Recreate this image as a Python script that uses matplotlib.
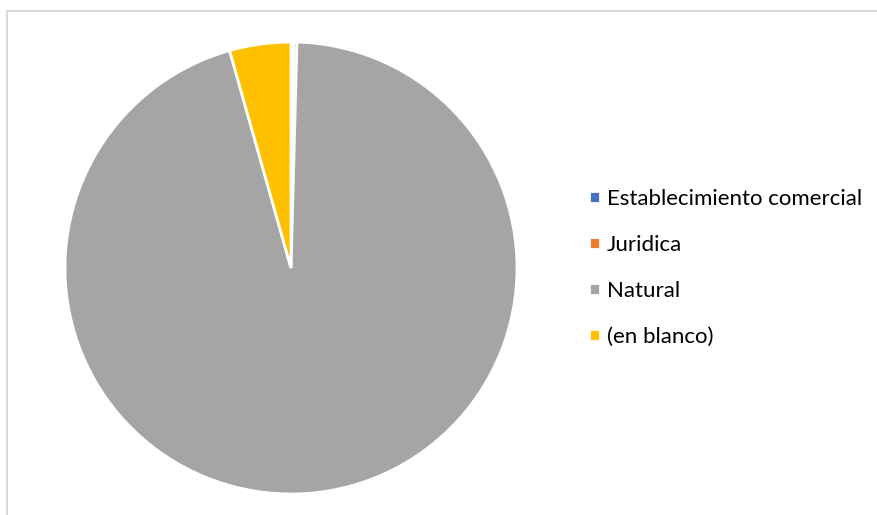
import matplotlib.pyplot as plt
from matplotlib.patches import Rectangle

# datos del grafico (porcentaje aprox.)
categorias = ['Establecimiento comercial', 'Juridica', 'Natural', '(en blanco)']
valores = [0.2, 0.22, 95.2, 4.38]
colores = ['#4472C4', '#ED7D31', '#A5A5A5', '#FFC000']

plt.rcParams['font.family'] = ['Lato', 'DejaVu Sans']

fig = plt.figure(figsize=(8.77, 5.15), dpi=100)

# borde del area del grafico
fig.patches.append(Rectangle((7/877, -0.1), 1.2, (515-11)/515 + 0.1, transform=fig.transFigure,
                             fill=False, edgecolor='#D9D9D9', linewidth=1.5))

ax = fig.add_axes([65/877, 21/515, 452/877, 452/515])
wedges, _ = ax.pie(valores, colors=colores, startangle=90, counterclock=False,
                   wedgeprops=dict(edgecolor='white', linewidth=2))
ax.set_xlim(-1, 1)
ax.set_ylim(-1, 1)
ax.set_aspect('equal')
ax.axis('off')

fig.legend(wedges, categorias, loc='center left', bbox_to_anchor=(589/877, 1 - 268/515),
           frameon=False, fontsize=16, handlelength=0.5, handleheight=0.5,
           handletextpad=0.32, labelspacing=1.17, borderpad=0, borderaxespad=0)

fig.savefig('out.png', dpi=100)
